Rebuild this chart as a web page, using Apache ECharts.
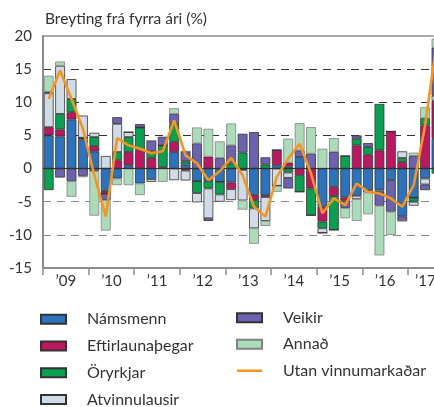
<!DOCTYPE html>
<html>
<head>
<meta charset="utf-8">
<script src="https://cdn.jsdelivr.net/npm/echarts@6/dist/echarts.min.js"></script>
<style>
html,body{margin:0;padding:0;background:#fff;}
#main{width:434px;height:407px;}
</style>
</head>
<body>
<div id="main"></div>
<script>
//ársfjórðungar 2009F1 - 2017F4
var quarters = [];
for(var y=2009;y<=2017;y++){
	for(var q=1;q<=4;q++){
		quarters.push(y+"F"+q);
	}
}
var years = ["’09","’10","’11","’12","’13","’14","’15","’16","’17"];

var namsmenn = [5.0,4.85,7.4,4.4, 2.6,-3.4,-1.5,0.5, -2.25,-1.6,0,2.5, 0.6,-1.9,-1.9,-2.0, -2.1,0,-4.0,-4.0, 0.5,0.3,1.75,0, -5.75,-2.75,-4.35,-4.1, -3.25,-3.2,-1.75,-7.2, -4.4,-1.5,4.5,null];
var eftirlaun = [1.25,1.05,1.1,0.25, 0.8,-0.4,1.25,2.0, 2.75,1.6,0.2,1.5, -0.3,0,1.8,0, -1.0,-0.2,-0.75,-0.3, 2.3,0.6,-1.0,-3.0, -2.25,-1.4,-0.5,3.5, 2.1,2.75,5.6,1.0, 0,6.5,5.75,null];
var oryrkjar = [-3.25,2.35,2.0,0, 1.35,0,1.25,2.25, 3.45,1.0,3.3,2.75, 0.5,-1.8,-1.1,-1.9, 0.75,2.4,-1.25,0.6, 0,-0.6,-2.5,-4.05, -1.0,-5.1,1.9,1.0, 1.15,7.0,0,0.6, -0.6,1.1,-0.75,null];
var atvinnulausir = [5.1,7.25,3.0,3.35, 0.65,1.9,4.25,0.75, 0,-0.4,0,-1.75, -1.5,-1.4,-4.5,-1.1, -1.65,-4.6,-3.0,-3.6, -2.6,-0.8,0,0, -0.7,0,0,-0.5, -0.35,-0.3,0,1.0, -0.6,-0.9,0.75,null];
var veikir = [0.25,-1.35,-1.9,-1.1, -0.4,-0.95,1.0,0, 0.5,1.6,1.3,1.5, 1.5,3.8,-0.4,1.6, 2.75,2.85,5.5,1.1, 0,-1.6,1.0,2.25, 0,2.5,-1.1,0.5, 0.6,-2.1,-4.75,-0.7, 1.9,-0.85,7.25,null];
var annad = [2.4,0.65,-2.35,-0.2, -6.7,-4.6,-1.0,-2.5, -1.75,0,-2.0,0.85, 0,2.4,4.2,2.5, 3.3,-1.4,-2.35,-0.75, -0.9,3.6,4.1,4.0, 3.0,2.1,-1.55,-3.3, -3.3,-7.5,-3.5,0, 0.5,1.65,1.35,null];
var utan = [10.5,14.8,10.5,6.0, -1.0,-7.25,4.6,3.5, 3.0,2.3,2.6,7.25, 2.0,0.8,-1.75,-0.4, 1.6,-1.0,-5.75,-7.25, -1.25,1.5,3.75,-0.75, -6.75,-4.5,-5.5,-2.25, -3.5,-3.75,-4.5,-5.75, -2.5,6.5,18.8,null];

var FONT = "Lato";
//lína í skýringu, án punkts
var LINE_ICON = "path://M0,0L0.01,0Z M0,3.4L25,3.4L25,5.8L0,5.8Z M0,9L0.01,9Z";

function barSeries(name,data,color,border){
	return {
		name:name,
		type:"bar",
		stack:"s",
		xAxisIndex:0,
		barCategoryGap:"14%",
		data:data,
		itemStyle:{color:color,borderColor:border||"#333",borderWidth:0.8}
	};
}

var legendText = {fontFamily:FONT,fontSize:16,color:"#333",lineHeight:16,padding:[0,0,0,16]};

var myChart = echarts.init(document.getElementById("main"));
var option = {
	animation:false,
	title:{
		text:"Breyting frá fyrra ári (%)",
		left:40,top:6,
		textStyle:{fontFamily:FONT,fontSize:15.5,fontWeight:"normal",color:"#333"}
	},
	legend:[{
		orient:"vertical",left:40,top:311.3,height:110,padding:0,itemGap:10.7,
		itemWidth:25,itemHeight:9,icon:"rect",
		data:["Námsmenn","Eftirlaunaþegar","Öryrkjar","Atvinnulausir"],
		textStyle:legendText
	},{
		orient:"vertical",left:236,top:309.7,height:110,padding:0,itemGap:10.5,
		itemWidth:25,itemHeight:9,
		data:[{name:"Veikir",icon:"rect"},{name:"Annað",icon:"rect"},{name:"Utan vinnumarkaðar",icon:LINE_ICON}],
		textStyle:legendText
	}],
	grid:{left:43,top:36,width:410.6,height:232,outerBoundsMode:"none",show:true,borderColor:"#555",borderWidth:1},
	xAxis:[{
		type:"category",data:quarters,show:false
	},{
		type:"category",data:years,position:"bottom",
		axisLine:{lineStyle:{color:"#8c8c8c",width:2}},
		axisTick:{show:true,length:7,lineStyle:{color:"#8c8c8c",width:1.5}},
		axisLabel:{
			interval:0,hideOverlap:false,
			fontFamily:FONT,fontSize:15,color:"#333",margin:6,
			formatter:function(v){
				//síðasta árið er aðeins þrír ársfjórðungar
				return v=="’17" ? "{last|"+v+"}" : v;
			},
			rich:{last:{fontFamily:FONT,fontSize:15,color:"#333",padding:[0,11,0,0]}}
		}
	}],
	yAxis:{
		type:"value",min:-15,max:20,interval:5,
		axisLine:{show:true,lineStyle:{color:"#8c8c8c",width:2}},
		axisTick:{show:false},
		axisLabel:{fontFamily:FONT,fontSize:15,color:"#333",margin:11},
		splitLine:{lineStyle:{
			color:["transparent","#888","#888","transparent","#333","#333","#333","transparent"],
			type:[8,6],width:1.2
		}}
	},
	series:[
		barSeries("Námsmenn",namsmenn,"#2b73bf"),
		barSeries("Eftirlaunaþegar",eftirlaun,"#be1762"),
		barSeries("Öryrkjar",oryrkjar,"#08a14f"),
		barSeries("Atvinnulausir",atvinnulausir,"#cfdbe7"),
		barSeries("Veikir",veikir,"#6b63b1"),
		barSeries("Annað",annad,"#abdcb9","#808080"),
		{
			name:"Utan vinnumarkaðar",
			type:"line",
			xAxisIndex:0,
			data:utan,
			symbol:"none",
			z:5,
			lineStyle:{color:"#f7941d",width:2.6},
			itemStyle:{color:"#f7941d"},
			markLine:{
				silent:true,symbol:"none",label:{show:false},
				lineStyle:{color:"#333",width:1.2,type:"solid"},
				data:[{yAxis:0}]
			}
		}
	]
};
myChart.setOption(option);
</script>
</body>
</html>
